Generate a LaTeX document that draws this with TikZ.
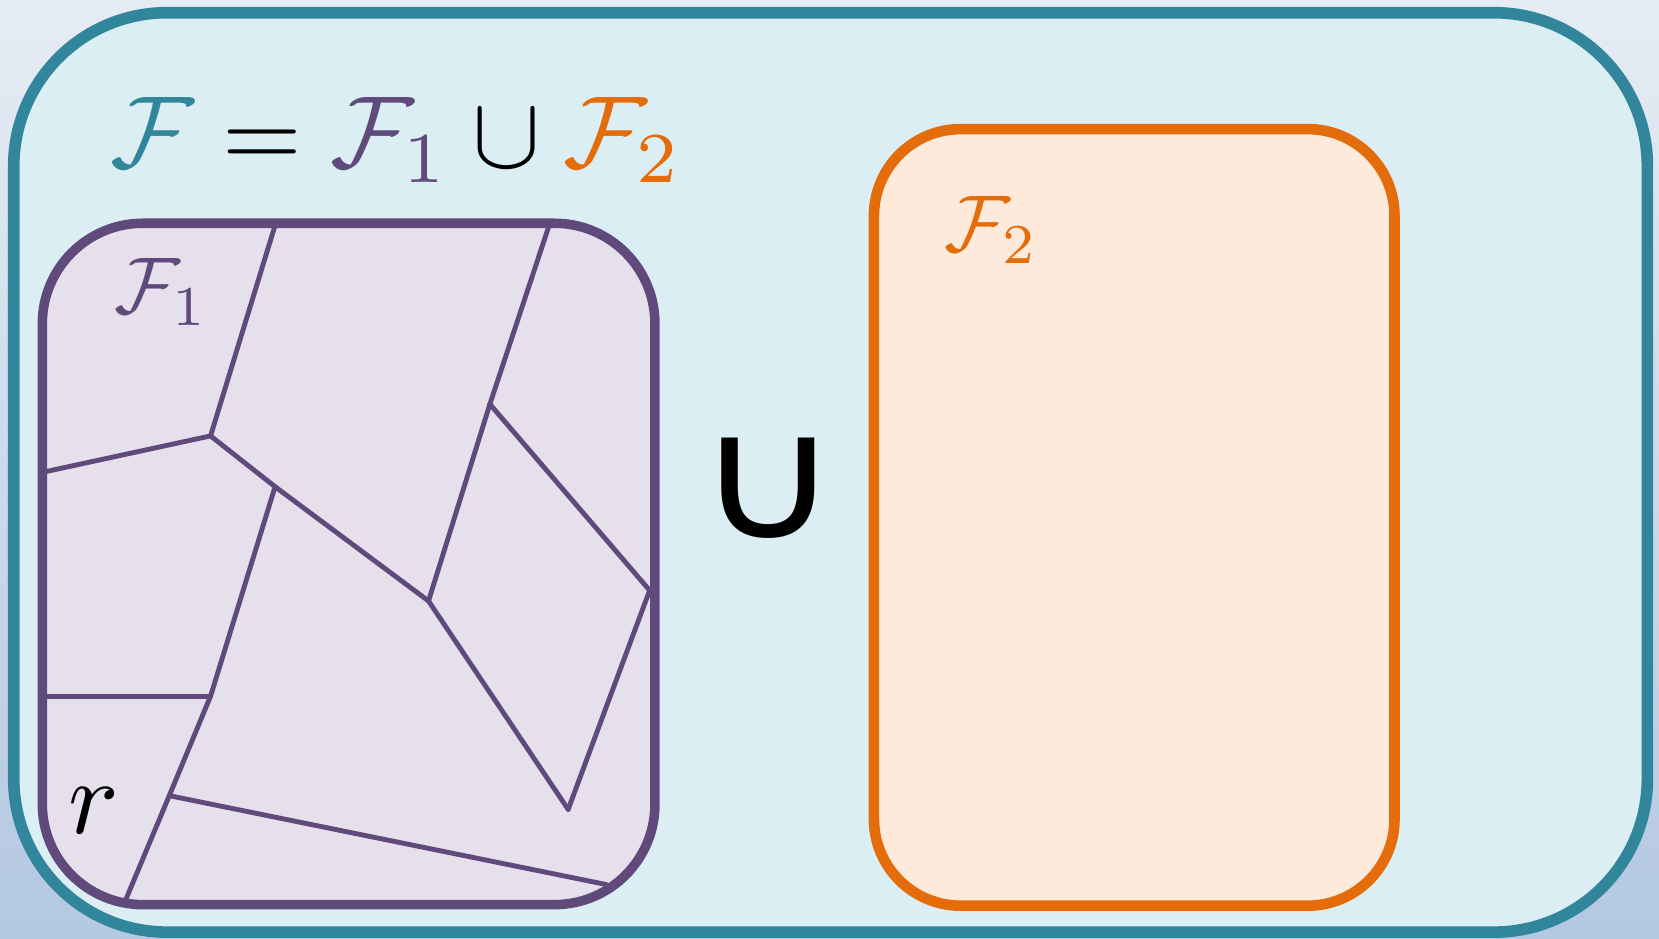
\documentclass[tikz,border=0pt]{standalone}
\usepackage{fontspec}
\newfontfamily\dejavu{DejaVu Sans}
\definecolor{bgTop}{HTML}{E6ECF4}
\definecolor{bgBot}{HTML}{B4C8E2}
\definecolor{cTeal}{HTML}{31869C}
\definecolor{cOuter}{HTML}{DAEEF3}
\definecolor{cPurple}{HTML}{604A7B}
\definecolor{cPurpleFill}{HTML}{E5E0EC}
\definecolor{cOrange}{HTML}{E46C0A}
\definecolor{cOrangeFill}{HTML}{FDEADA}
\tikzset{
  panel/.style={inner sep=0pt, outer sep=0pt},
  edge/.style={draw=cPurple, line width=4.6pt, line cap=round, line join=round},
}
\begin{document}
\begin{tikzpicture}[x=1pt,y=-1pt]
\useasboundingbox (0,0) rectangle (1568,887);
\shade[top color=bgTop, bottom color=bgBot] (0,0) rectangle (1568,887);
% outer frame
\node[panel, draw=cTeal, fill=cOuter, line width=11pt, rounded corners=145pt,
      minimum width=1544pt, minimum height=869pt] (outer) at (785,446.5) {};
% F1 box
\node[panel, draw=cPurple, fill=cPurpleFill, line width=9pt, rounded corners=95pt,
      minimum width=579pt, minimum height=644pt] (Fone) at (329.5,533) {};
% F2 box
\node[panel, draw=cOrange, fill=cOrangeFill, line width=10pt, rounded corners=82pt,
      minimum width=492pt, minimum height=734pt] (Ftwo) at (1072,489) {};
% partition coordinates
\coordinate (t1) at (260,213);
\coordinate (t2) at (519,213);
\coordinate (l1) at (42,446);
\coordinate (l2) at (42,658);
\coordinate (r1) at (614,558);
\coordinate (b1) at (119,850);
\coordinate (b2) at (573,836);
\coordinate (p1) at (199,412);
\coordinate (p2) at (260,460);
\coordinate (p3) at (463,382);
\coordinate (p4) at (405,568);
\coordinate (p5) at (537,765);
\coordinate (p6) at (199,658);
\coordinate (p7) at (160,752);
\draw[edge] (t1) -- (p1);
\draw[edge] (l1) -- (p1);
\draw[edge] (p1) -- (p2);
\draw[edge] (p2) -- (p4);
\draw[edge] (t2) -- (p3);
\draw[edge] (p3) -- (p4);
\draw[edge] (p3) -- (r1);
\draw[edge] (r1) -- (p5);
\draw[edge] (p4) -- (p5);
\draw[edge] (p2) -- (p6);
\draw[edge] (l2) -- (p6);
\draw[edge] (p6) -- (p7);
\draw[edge] (p7) -- (b1);
\draw[edge] (p7) -- (b2);
% labels
\node[panel, anchor=base west, scale=9.67] (title) at (104,158) {$\color{cTeal}\mathcal{F}\color{black} = \color{cPurple}\mathcal{F}_1\color{black} \cup \color{cOrange}\mathcal{F}_2$};
\node[panel, anchor=base west, scale=7.6, text=cPurple] (lab1) at (108,296) {$\mathcal{F}_1$};
\node[panel, anchor=base west, scale=7.6, text=cOrange] (lab2) at (893,238) {$\mathcal{F}_2$};
\node[panel, anchor=base, scale=10] (r) at (89,788) {$r$};
\node[panel, xscale=1.13, font=\dejavu\fontsize{164}{164}\selectfont] (cup) at (726,461) {∪};
\end{tikzpicture}
\end{document}
